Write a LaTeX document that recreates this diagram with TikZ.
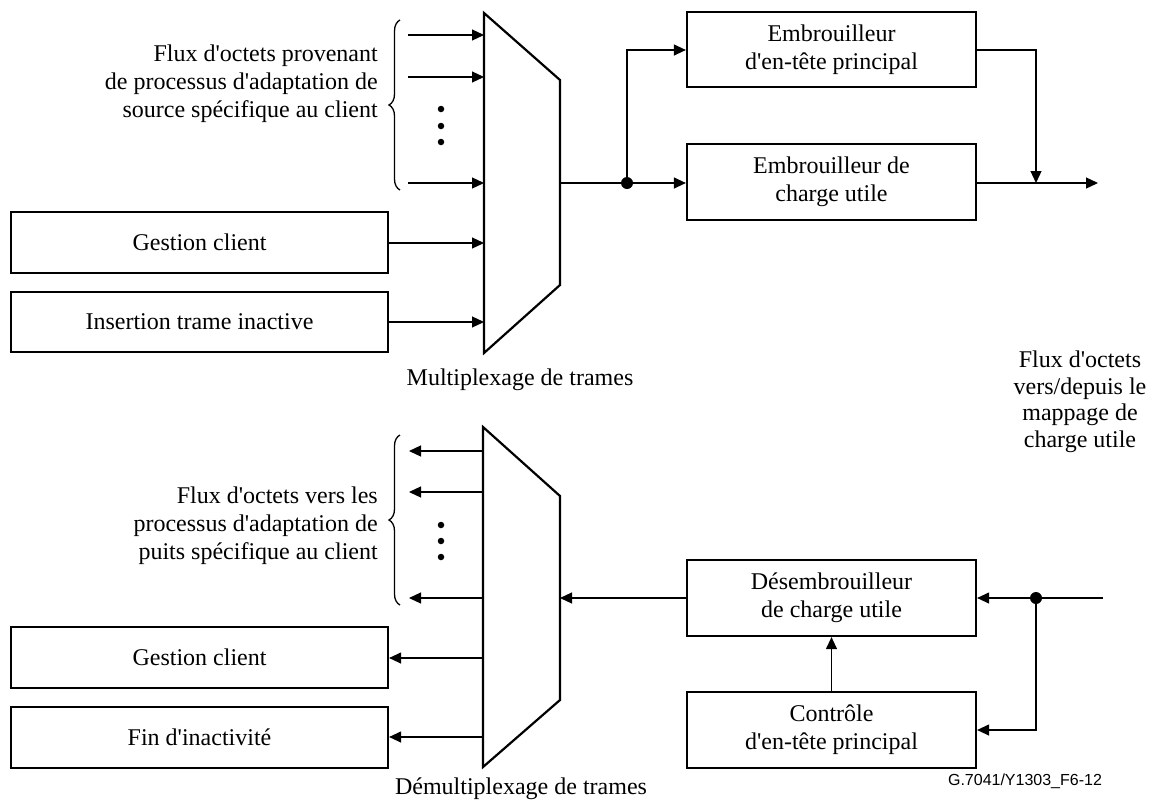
\documentclass[tikz,border=0pt]{standalone}
\usepackage{fontspec}
\setmainfont{Liberation Serif}[Ligatures=TeXOff]
\newfontfamily\labelsans{Liberation Sans}
\usetikzlibrary{arrows.meta,decorations.pathreplacing}
\begin{document}
\begin{tikzpicture}[x=1pt,y=-1pt,
  box/.style={draw,line width=2.2pt,minimum height=#1,inner sep=0pt,align=center,font=\fontsize{24}{28}\selectfont},
  box/.default=61pt,
  conn/.style={line width=1.2pt},
  arr/.style={conn,-{Triangle[length=12pt,width=11pt]}},
  muxline/.style={line width=2.2pt,line join=miter},
  lbl/.style={font=\fontsize{24}{28}\selectfont,inner sep=0pt},
  jdot/.style={circle,fill,inner sep=0pt,minimum size=12pt},
  vdot/.style={circle,fill,inner sep=0pt,minimum size=6.5pt},
  brc/.style={decorate,decoration={brace,amplitude=11pt},line width=1.3pt}]
\useasboundingbox (0,0) rectangle (1152,801);

% ---------- top: multiplexer ----------
\coordinate (m1a) at (484,13);
\coordinate (m1b) at (560,80);
\coordinate (m1c) at (560,285);
\coordinate (m1d) at (484,353);
\draw[muxline] (m1a) -- (m1b) -- (m1c) -- (m1d) -- cycle;

\node[box=61pt,minimum width=377pt] (gc1) at (199.5,242.5) {Gestion client};
\node[box=60pt,minimum width=377pt] (it1) at (199.5,322) {Insertion trame inactive};

\coordinate (s1) at (408,35);
\coordinate (s2) at (408,77);
\coordinate (s3) at (408,183);
\coordinate (t1) at (484,35);
\coordinate (t2) at (484,77);
\coordinate (t3) at (484,183);
\coordinate (t4) at (484,243);
\coordinate (t5) at (484,322);
\draw[arr] (s1) -- (t1);
\draw[arr] (s2) -- (t2);
\draw[arr] (s3) -- (t3);
\draw[arr] (gc1.east |- t4) -- (t4);
\draw[arr] (it1.east |- t5) -- (t5);

\node[vdot] (d1) at (441,109) {};
\node[vdot] (d2) at (441,126) {};
\node[vdot] (d3) at (441,142) {};

\coordinate (b1a) at (400,190);
\coordinate (b1b) at (400,20);
\draw[brc] (b1a) -- (b1b);

\node[lbl,anchor=east,align=right] (src) at (378,84)
  {Flux d'octets provenant\\de processus d'adaptation de\\source spécifique au client};
\node[lbl] (mux) at (520,380) {Multiplexage de trames};

% scramblers
\node[box=75pt,minimum width=289pt] (emb1) at (831.5,49.5) {Embrouilleur\\d'en-tête principal};
\node[box=76pt,minimum width=289pt] (emb2) at (831.5,182) {Embrouilleur de\\charge utile};

\coordinate (mo) at (560,183);
\node[jdot] (j1) at (627,183) {};
\draw[conn] (mo) -- (j1);
\draw[arr] (j1) -- (emb2.west |- j1);
\draw[arr] (j1) -- (627,50) -- (emb1.west |- 0,50);

\coordinate (outR) at (1098,183);
\coordinate (mrg) at (1036,183);
\draw[arr] (emb2.east |- outR) -- (outR);
\draw[arr] (emb1.east |- 0,50) -- (1036,50) -- (mrg);

\node[lbl,align=center,font=\fontsize{24}{26.5}\selectfont] (flux) at (1080,402)
  {Flux d'octets\\vers/depuis le\\mappage de\\charge utile};

% ---------- bottom: demultiplexer ----------
\coordinate (n1a) at (483,427);
\coordinate (n1b) at (560,496);
\coordinate (n1c) at (560,700);
\coordinate (n1d) at (483,767);
\draw[muxline] (n1a) -- (n1b) -- (n1c) -- (n1d) -- cycle;

\node[box=61pt,minimum width=377pt] (gc2) at (199.5,657.5) {Gestion client};
\node[box=61pt,minimum width=377pt] (fi2) at (199.5,737.5) {Fin d'inactivité};

\coordinate (u1) at (483,451);
\coordinate (u2) at (483,492);
\coordinate (u3) at (483,598);
\coordinate (u4) at (483,658);
\coordinate (u5) at (483,737);
\coordinate (v1) at (409,451);
\coordinate (v2) at (409,492);
\coordinate (v3) at (409,598);
\draw[arr] (u1) -- (v1);
\draw[arr] (u2) -- (v2);
\draw[arr] (u3) -- (v3);
\draw[arr] (u4) -- (gc2.east |- u4);
\draw[arr] (u5) -- (fi2.east |- u5);

\node[vdot] (e1) at (441,525) {};
\node[vdot] (e2) at (441,541) {};
\node[vdot] (e3) at (441,557) {};

\coordinate (b2a) at (400,605);
\coordinate (b2b) at (400,435);
\draw[brc] (b2a) -- (b2b);

\node[lbl,anchor=east,align=right] (snk) at (378,526)
  {Flux d'octets vers les\\processus d'adaptation de\\puits spécifique au client};
\node[lbl] (dmx) at (521,789) {Démultiplexage de trames};

\node[box=76pt,minimum width=289pt] (des) at (831.5,598) {Désembrouilleur\\de charge utile};
\node[box=76pt,minimum width=289pt] (ctl) at (831.5,730) {Contrôle\\d'en-tête principal};

\coordinate (mi) at (560,598);
\draw[arr] (des.west) -- (mi);
\draw[arr] (ctl.north) -- (des.south);

\coordinate (inR) at (1103,598);
\node[jdot] (j2) at (1036,598) {};
\draw[conn] (inR) -- (j2);
\draw[arr] (j2) -- (des.east);
\draw[arr] (j2) -- (1036,730) -- (ctl.east);

\node[font=\labelsans\fontsize{16}{18}\selectfont,inner sep=0pt] (ref) at (1025,781) {G.7041/Y1303\_F6-12};
\end{tikzpicture}
\end{document}
